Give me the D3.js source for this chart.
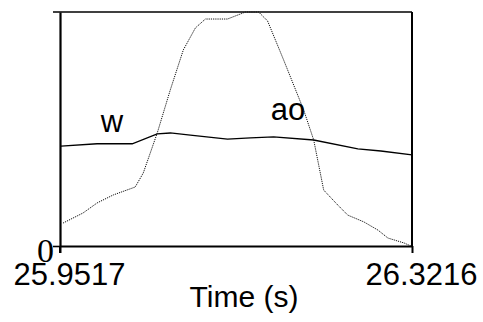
<!doctype html>
<html lang="">
<head>
  <meta charset="utf-8">
  <script src="https://d3js.org/d3.v7.min.js"></script>
  <style>
    body { margin: 0; background: #fff; }
    text { font-family: "Liberation Sans", Arial, sans-serif; fill: #000; }
  </style>
</head>
<body>
<div id="chart"></div>
<script>
// time range of the window (s)
var timeTicks = [25.9517, 26.3216];

// "w" contour (solid), normalised 0..1
var wTime = [25.9517, 25.9528, 25.9907, 26.0276, 26.0539, 26.0676, 26.0887, 26.1277,
             26.1519, 26.1762, 26.2183, 26.2647, 26.2889, 26.3216];
var wVal  = [0.427, 0.427, 0.437, 0.437, 0.479, 0.483, 0.474, 0.457,
             0.462, 0.466, 0.453, 0.415, 0.406, 0.389];

// "ao" contour (dotted), normalised 0..1
var aoTime = [25.9549, 25.9759, 25.9907, 26.0076, 26.0307, 26.0392, 26.0539, 26.0676,
              26.0813, 26.0940, 26.1045, 26.1277, 26.1467, 26.1604, 26.1698, 26.1867,
              26.2078, 26.2183, 26.2288, 26.2436, 26.2541, 26.2710, 26.2858, 26.2963,
              26.3132, 26.3205];
var aoVal  = [0.098, 0.141, 0.184, 0.218, 0.252, 0.312, 0.483, 0.667,
              0.838, 0.932, 0.970, 0.970, 1.0, 1.0, 0.962, 0.795,
              0.581, 0.453, 0.239, 0.175, 0.132, 0.103, 0.068, 0.034,
              0.013, 0.0];

var labels = [{text: "w", t: 26.0063, v: 0.487}, {text: "ao", t: 26.1913, v: 0.538}];

var W = 483, H = 322;
var mLeft = 60, mRight = 412, mTop = 12, mBottom = 246;

var svg = d3.select("#chart").append("svg")
    .attr("width", W).attr("height", H);

var x = d3.scaleLinear().domain(timeTicks).range([mLeft, mRight]);
var y = d3.scaleLinear().domain([0, 1]).range([mBottom, mTop]);

// frame: top and right
svg.append("line").attr("x1", mLeft - 7).attr("x2", mRight)
    .attr("y1", mTop).attr("y2", mTop)
    .attr("stroke", "#000").attr("stroke-width", 1.6);
svg.append("line").attr("x1", mRight).attr("x2", mRight)
    .attr("y1", mTop).attr("y2", mBottom)
    .attr("stroke", "#000").attr("stroke-width", 2);

// bottom axis
var xAxis = svg.append("g").attr("transform", "translate(0," + mBottom + ")")
    .call(d3.axisBottom(x).tickValues(timeTicks).tickSize(7).tickSizeOuter(0)
      .tickFormat(function(d) { return d.toFixed(4); }));
xAxis.select(".domain").attr("stroke-width", 2);
xAxis.selectAll(".tick line").attr("stroke-width", 2);
xAxis.selectAll(".tick text")
    .attr("y", 0).attr("dy", 0)
    .attr("transform", "translate(9,39)")
    .style("font-size", "31px")
    .style("font-family", "Liberation Sans, Arial, sans-serif");

// left axis
var yAxis = svg.append("g").attr("transform", "translate(" + mLeft + ",0)")
    .call(d3.axisLeft(y).tickValues([0]).tickSize(7).tickSizeOuter(0)
      .tickFormat(function(d) { return "0"; }));
yAxis.select(".domain").attr("stroke-width", 2.2);
yAxis.selectAll(".tick line").attr("stroke-width", 1.6);
yAxis.selectAll(".tick text")
    .attr("x", -6).attr("dy", "0.46em")
    .style("font-size", "34px")
    .style("font-family", "Liberation Serif, Times New Roman, serif");
// extend y axis down to match the tick below baseline
svg.append("line").attr("x1", mLeft).attr("x2", mLeft)
    .attr("y1", mBottom).attr("y2", mBottom + 7)
    .attr("stroke", "#000").attr("stroke-width", 2);

var line = d3.line()
    .x(function(d) { return x(d[0]); })
    .y(function(d) { return y(d[1]); });

svg.append("path")
    .datum(d3.zip(wTime, wVal))
    .attr("d", line)
    .attr("fill", "none").attr("stroke", "#000").attr("stroke-width", 1.3);

svg.append("path")
    .datum(d3.zip(aoTime, aoVal))
    .attr("d", line)
    .attr("fill", "none").attr("stroke", "#111").attr("stroke-width", 1)
    .attr("stroke-dasharray", "1.2,1");

svg.selectAll(".lbl").data(labels).enter().append("text")
    .attr("class", "lbl")
    .attr("x", function(d) { return x(d.t); })
    .attr("y", function(d) { return y(d.v); })
    .attr("text-anchor", "middle")
    .style("font-size", "31px")
    .text(function(d) { return d.text; });

svg.append("text")
    .attr("x", 244).attr("y", 307)
    .attr("text-anchor", "middle")
    .style("font-size", "30px")
    .text("Time (s)");
</script>
</body>
</html>
